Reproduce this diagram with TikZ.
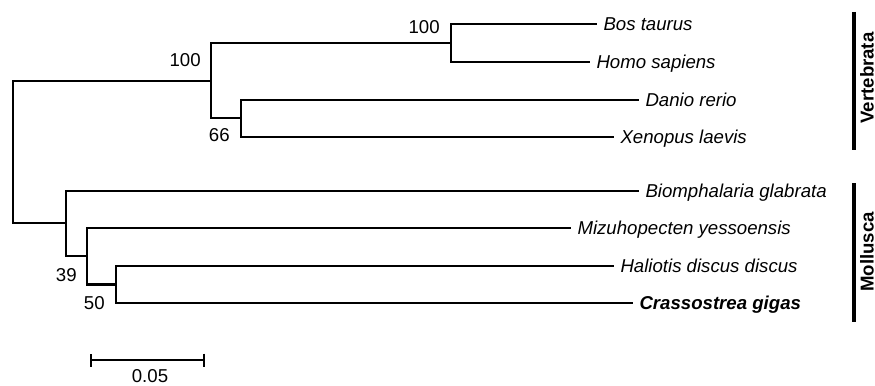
\documentclass[tikz,border=0pt]{standalone}
\usepackage{fontspec}
\setmainfont{Liberation Sans}
\usetikzlibrary{arrows.meta,positioning}

\begin{document}
\begin{tikzpicture}[
  branch/.style={line width=1.3pt, line cap=rect},
  taxon/.style={anchor=west, inner sep=0pt, outer xsep=0.15cm,
    text height=0.72em, text depth=0pt,
    font=\fontsize{10.6}{12}\selectfont\itshape},
  boot/.style={anchor=east, inner sep=0pt,
    font=\fontsize{10.6}{12}\selectfont},
  clade/.style={rotate=90, inner sep=0pt,
    font=\fontsize{10.6}{12}\selectfont\bfseries},
  cladebar/.style={line width=1.8pt},
]
  \useasboundingbox (0,0) rectangle (17.5,7.7);

  % Internal nodes
  \coordinate (R)  at (0.26,4.66);
  \coordinate (V)  at (4.22,6.08);
  \coordinate (BH) at (9.02,6.84);
  \coordinate (DX) at (4.82,5.34);
  \coordinate (M)  at (1.32,3.24);
  \coordinate (M2) at (1.74,2.58);
  \coordinate (M3) at (2.32,2.01);

  % Taxa
  \node[taxon] (bos)   at (11.92,7.22) {Bos taurus};
  \node[taxon] (homo)  at (11.78,6.46) {Homo sapiens};
  \node[taxon] (danio) at (12.76,5.70) {Danio rerio};
  \node[taxon] (xeno)  at (12.26,4.96) {Xenopus laevis};
  \node[taxon] (biom)  at (12.76,3.88) {Biomphalaria glabrata};
  \node[taxon] (mizu)  at (11.40,3.14) {Mizuhopecten yessoensis};
  \node[taxon] (hali)  at (12.26,2.38) {Haliotis discus discus};
  \node[taxon, font=\fontsize{10.6}{12}\selectfont\bfseries\itshape] (cras)
    at (12.64,1.64) {Crassostrea gigas};

  % Branches
  \draw[branch] (R) |- (V);
  \draw[branch] (R) |- (M);
  \draw[branch] (V) |- (BH);
  \draw[branch] (V) |- (DX);
  \draw[branch] (BH) |- (bos.west);
  \draw[branch] (BH) |- (homo.west);
  \draw[branch] (DX) |- (danio.west);
  \draw[branch] (DX) |- (xeno.west);
  \draw[branch] (M) |- (biom.west);
  \draw[branch] (M) |- (M2);
  \draw[branch] (M2) |- (mizu.west);
  \draw[branch] (M2) |- (M3);
  \draw[branch] (M3) |- (hali.west);
  \draw[branch] (M3) |- (cras.west);

  % Bootstrap values
  \node[boot] (bBH) at (8.80,7.16) {100};
  \node[boot] (bV)  at (4.02,6.50) {100};
  \node[boot] (bDX) at (4.60,5.00) {66};
  \node[boot] (bM2) at (1.54,2.20) {39};
  \node[boot] (bM3) at (2.10,1.64) {50};

  % Scale bar
  \coordinate (sbL) at (1.80,0.50);
  \coordinate (sbR) at (4.10,0.50);
  \draw[line width=1.3pt, {Bar[width=0.26cm]}-{Bar[width=0.26cm]}] (sbL) -- (sbR);
  \node[boot, anchor=center] (sbLab) at (3.00,0.18) {0.05};

  % Clades
  \coordinate (vTop) at (17.08,7.46);
  \coordinate (vBot) at (17.08,4.70);
  \coordinate (mTop) at (17.08,4.04);
  \coordinate (mBot) at (17.08,1.26);
  \draw[cladebar] (vTop) -- (vBot);
  \draw[cladebar] (mTop) -- (mBot);
  \node[clade] (vert) at (17.34,6.14) {Vertebrata};
  \node[clade] (moll) at (17.34,2.66) {Mollusca};
\end{tikzpicture}
\end{document}
